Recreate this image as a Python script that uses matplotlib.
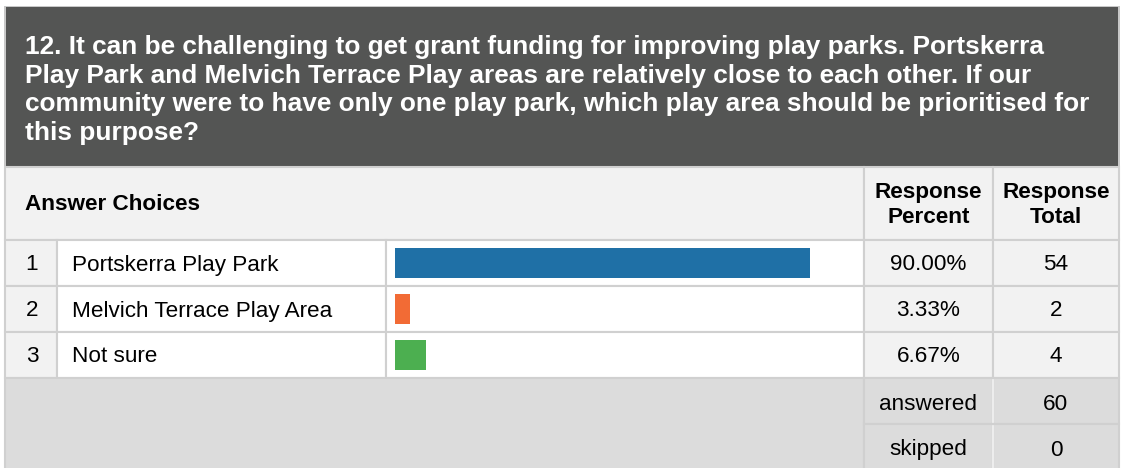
import matplotlib.pyplot as plt
from matplotlib.patches import Rectangle

plt.rcParams['font.family'] = ['Liberation Sans', 'DejaVu Sans']

# 데이터
question = ('12. It can be challenging to get grant funding for improving play parks. Portskerra\n'
            'Play Park and Melvich Terrace Play areas are relatively close to each other. If our\n'
            'community were to have only one play park, which play area should be prioritised for\n'
            'this purpose?')
choices = ['Portskerra Play Park', 'Melvich Terrace Play Area', 'Not sure']
percents = [90.00, 3.33, 6.67]
totals = [54, 2, 4]
bar_colors = ['#1f70a6', '#f26b35', '#4caf50']
answered = 60
skipped = 0

W, H = 1122, 468
fig = plt.figure(figsize=(W / 100, H / 100), dpi=100)
ax = fig.add_axes([0, 0, 1, 1])
ax.set_xlim(0, W)
ax.set_ylim(H, 0)
ax.axis('off')

line_c = '#d0d0d0'
light = '#f2f2f2'
summary = '#dcdcdc'
x0, x1, x2, x3, x4, x5 = 5, 57, 386, 864, 993, 1119
row_top = 240
row_h = 46
fs = 16.2


def cell(x, y, w, h, fc, ec=line_c, lw=1.5):
    ax.add_patch(Rectangle((x, y), w, h, facecolor=fc, edgecolor=ec, linewidth=lw))


# 제목 영역
ax.add_patch(Rectangle((x0 - 1, 6), x5 - x0 + 2, 161, facecolor='#c8c8c8', edgecolor='none'))
ax.add_patch(Rectangle((x0 + 1, 7), x5 - x0 - 2, 159, facecolor='#545554', edgecolor='none'))
ax.text(25, 90, question, color='white', fontsize=18.9, fontweight='bold',
        va='center', ha='left', linespacing=1.25)

# 헤더 행
cell(x0, 167, x3 - x0, row_top - 167, light)
cell(x3, 167, x4 - x3, row_top - 167, light)
cell(x4, 167, x5 - x4, row_top - 167, light)
ax.text(25, 204, 'Answer Choices', fontsize=fs, fontweight='bold', va='center')
ax.text((x3 + x4) / 2, 205, 'Response\nPercent', fontsize=fs, fontweight='bold',
        va='center', ha='center', linespacing=1.25)
ax.text((x4 + x5) / 2, 205, 'Response\nTotal', fontsize=fs, fontweight='bold',
        va='center', ha='center', linespacing=1.25)

# 응답 행
for i, (name, pct, tot) in enumerate(zip(choices, percents, totals)):
    y = row_top + i * row_h
    cell(x0, y, x1 - x0, row_h, light)
    cell(x1, y, x2 - x1, row_h, 'white')
    cell(x2, y, x3 - x2, row_h, 'white')
    cell(x3, y, x4 - x3, row_h, light)
    cell(x4, y, x5 - x4, row_h, light)
    yc = y + row_h / 2 + 2
    ax.text((x0 + x1) / 2 + 1, yc, str(i + 1), fontsize=fs, va='center', ha='center')
    ax.text(72, yc, name, fontsize=fs, va='center', ha='left')
    ax.text((x3 + x4) / 2, yc, f'{pct:.2f}%', fontsize=fs, va='center', ha='center')
    ax.text((x4 + x5) / 2, yc, str(tot), fontsize=fs, va='center', ha='center')

# 막대 (100% = 461px)
ys = [row_top + i * row_h + row_h / 2 for i in range(len(choices))]
ax.barh(ys, [p * 4.61 for p in percents], left=395, height=30, color=bar_colors, zorder=3)

# 요약 행
sy = row_top + len(choices) * row_h
cell(x0, sy, x3 - x0, H - sy + 2, summary, ec=line_c)
for j, (lab, val) in enumerate([('answered', answered), ('skipped', skipped)]):
    y = sy + j * 46
    cell(x3, y, x4 - x3, 46, summary, ec=line_c)
    cell(x4, y, x5 - x4, 46, summary, ec=line_c)
    ax.plot([x4, x4], [y + 2, y + 44], color='#f4f4f4', lw=1.2)
    ax.text((x3 + x4) / 2, y + 26, lab, fontsize=fs, va='center', ha='center')
    ax.text((x4 + x5) / 2, y + 26, str(val), fontsize=fs, va='center', ha='center')

fig.savefig('out.png', dpi=100, facecolor='white')
